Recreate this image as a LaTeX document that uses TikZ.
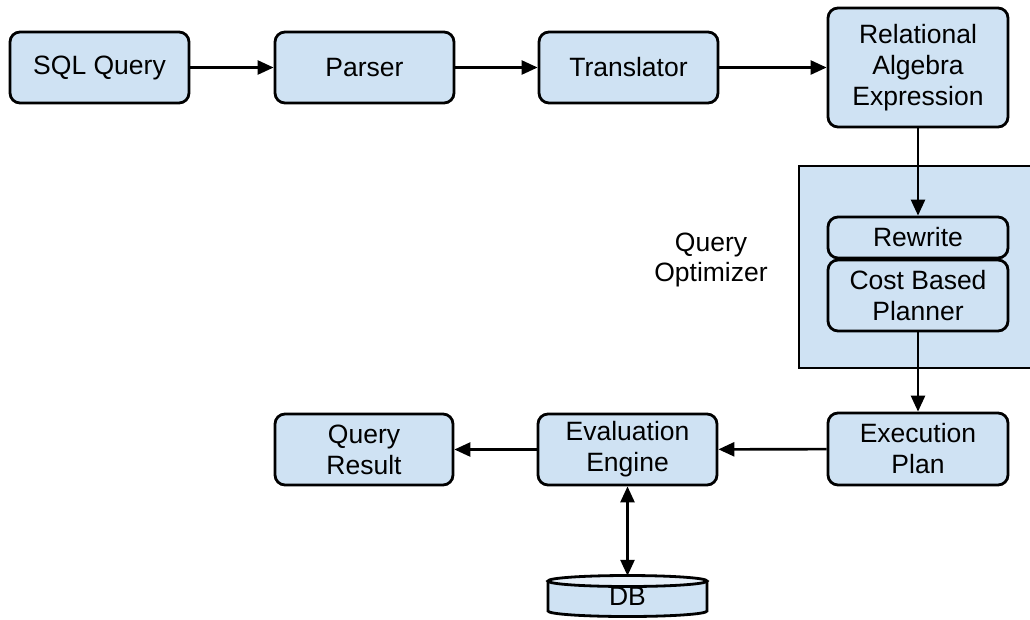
\documentclass[tikz,border=0pt]{standalone}
\usepackage{fontspec}
\setmainfont{Liberation Sans}
\usetikzlibrary{arrows.meta}
\definecolor{boxblue}{HTML}{CFE2F3}
\definecolor{toplight}{HTML}{E6EFF8}
\tikzset{
  proc/.style={draw=black, line width=2.8pt, fill=boxblue, rounded corners=10pt,
    inner sep=0pt, align=center, font=\fontsize{26.5pt}{31pt}\selectfont},
  conn/.style={line width=2.6pt, -{Triangle[length=16pt,width=14pt]}},
  biconn/.style={line width=2.6pt, {Triangle[length=16pt,width=14pt]}-{Triangle[length=16pt,width=14pt]}},
  lbl/.style={align=center, font=\fontsize{26.5pt}{30pt}\selectfont, inner sep=0pt}
}
\begin{document}
\begin{tikzpicture}[x=1pt,y=-1pt]
\useasboundingbox (0,0) rectangle (1030,619);
% optimizer background
\fill[boxblue] (799,166) rectangle (1031,368);
\draw[line width=2.8pt] (1032,166) -- (799,166) -- (799,368) -- (1032,368);
% top row
\node[proc, minimum width=179pt, minimum height=71pt] (sql) at (99.5,67.5) {SQL Query};
\node[proc, minimum width=179pt, minimum height=71pt] (parser) at (364.5,67.5) {Parser};
\node[proc, minimum width=179pt, minimum height=71pt] (trans) at (628.5,67.5) {Translator};
\node[proc, minimum width=180pt, minimum height=119pt] (rel) at (918,67.5) {Relational\\Algebra\\Expression};
% optimizer
\node[proc, minimum width=180pt, minimum height=41pt] (rewrite) at (918,237.5) {Rewrite};
\node[proc, minimum width=180pt, minimum height=71pt] (cost) at (918,295.5) {Cost Based\\Planner};
\node[lbl] (qo) at (711,260) {Query\\Optimizer};
% bottom row
\node[proc, minimum width=180pt, minimum height=72pt] (exec) at (918,449) {Execution\\Plan};
\node[proc, minimum width=179pt, minimum height=71pt] (eval) at (627.5,449.5) {Evaluation\\Engine};
\node[proc, minimum width=178pt, minimum height=71pt] (res) at (364,449.5) {Query\\Result};
% DB cylinder
\filldraw[fill=boxblue, line width=2.8pt] (548,581) -- (548,611) arc[start angle=180, end angle=360, x radius=79.5pt, y radius=5.5pt] -- (707,581);
\filldraw[fill=toplight, line width=2.8pt] (627.5,581) ellipse[x radius=79.5pt, y radius=5.5pt];
\node[inner sep=0pt, minimum width=159pt, minimum height=41pt, font=\fontsize{26.5pt}{31pt}\selectfont] (db) at (627.5,596.5) {\raisebox{-5pt}{DB}};
% connectors
\draw[conn] (sql) -- (parser);
\draw[conn] (parser) -- (trans);
\draw[conn] (trans) -- (rel);
\draw[conn] (rel) -- (rewrite);
\draw[conn] (cost) -- (exec);
\draw[conn] (exec) -- (eval);
\draw[conn] (eval) -- (res);
\draw[biconn] (eval) -- (db);
\end{tikzpicture}
\end{document}
